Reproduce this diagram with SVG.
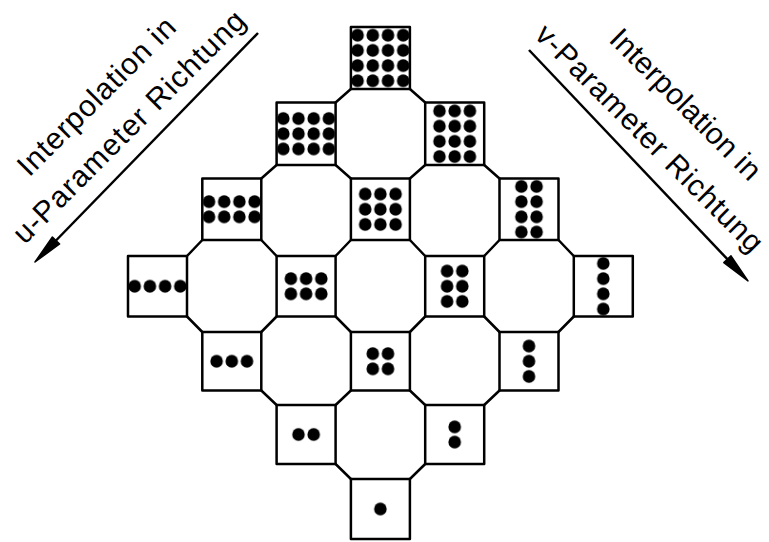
<svg xmlns="http://www.w3.org/2000/svg" width="769" height="542" viewBox="0 0 769 542">
<style>
.sq{fill:#fff;stroke:#000;stroke-width:2.5;stroke-linejoin:round}
.con{fill:none;stroke:#000;stroke-width:2.5;stroke-linecap:round}
.lbl{font-family:"Liberation Sans",Arial,sans-serif;font-size:30px;fill:#000}
.arr{fill:none;stroke:#000;stroke-width:2.5}
.head{fill:#000;stroke:#000;stroke-width:1.5;stroke-linejoin:round}
</style>
<defs>
<pattern id="dots" patternUnits="userSpaceOnUse" x="0" y="0" width="15.2" height="15.2">
<circle cx="7.6" cy="7.6" r="6.3" fill="#000"/>
</pattern>
</defs>
<rect width="769" height="542" fill="#fff"/>
<g id="connectors">
<path class="con" d="M350.9,89L335.6,102.5M409.9,89L425.2,102.5
M276.6,165L261.3,178.5M335.6,165L350.9,178.5
M425.2,165L409.9,178.5M484.2,165L499.5,178.5
M202.3,240L187,256M261.3,240L276.6,256
M350.9,240L335.6,256M409.9,240L425.2,256
M499.5,240L484.2,256M558.5,240L573.8,256
M187,316.5L202.3,332
M276.6,316.5L261.3,332M335.6,316.5L350.9,332
M425.2,316.5L409.9,332M484.2,316.5L499.5,332
M573.8,316.5L558.5,332
M261.3,390.5L276.6,405
M350.9,390.5L335.6,405M409.9,390.5L425.2,405
M499.5,390.5L484.2,405
M335.6,464L350.9,479
M425.2,464L409.9,479"/>
</g>
<g id="sq-r0c3"><rect class="sq" x="350.9" y="27" width="59" height="62"/><g transform="translate(350,27.6)"><rect width="60.8" height="60.8" fill="url(#dots)"/></g></g>
<g id="sq-r1c2"><rect class="sq" x="276.6" y="102.5" width="59" height="62.5"/><g transform="translate(275.7,110.95)"><rect width="60.8" height="45.6" fill="url(#dots)"/></g></g>
<g id="sq-r1c4"><rect class="sq" x="425.2" y="102.5" width="59" height="62.5"/><g transform="translate(431.9,103.35)"><rect width="45.6" height="60.8" fill="url(#dots)"/></g></g>
<g id="sq-r2c1"><rect class="sq" x="202.3" y="178.5" width="59" height="61.5"/><g transform="translate(201.4,194.05)"><rect width="60.8" height="30.4" fill="url(#dots)"/></g></g>
<g id="sq-r2c3"><rect class="sq" x="350.9" y="178.5" width="59" height="61.5"/><g transform="translate(357.6,186.45)"><rect width="45.6" height="45.6" fill="url(#dots)"/></g></g>
<g id="sq-r2c5"><rect class="sq" x="499.5" y="178.5" width="59" height="61.5"/><g transform="translate(513.8,178.85)"><rect width="30.4" height="60.8" fill="url(#dots)"/></g></g>
<g id="sq-r3c0"><rect class="sq" x="128" y="256" width="59" height="60.5"/><g transform="translate(127.1,278.65)"><rect width="60.8" height="15.2" fill="url(#dots)"/></g></g>
<g id="sq-r3c2"><rect class="sq" x="276.6" y="256" width="59" height="60.5"/><g transform="translate(283.3,271.05)"><rect width="45.6" height="30.4" fill="url(#dots)"/></g></g>
<g id="sq-r3c4"><rect class="sq" x="425.2" y="256" width="59" height="60.5"/><g transform="translate(439.5,263.45)"><rect width="30.4" height="45.6" fill="url(#dots)"/></g></g>
<g id="sq-r3c6"><rect class="sq" x="573.8" y="256" width="59" height="60.5"/><g transform="translate(595.7,255.85)"><rect width="15.2" height="60.8" fill="url(#dots)"/></g></g>
<g id="sq-r4c1"><rect class="sq" x="202.3" y="332" width="59" height="58.5"/><g transform="translate(209,353.65)"><rect width="45.6" height="15.2" fill="url(#dots)"/></g></g>
<g id="sq-r4c3"><rect class="sq" x="350.9" y="332" width="59" height="58.5"/><g transform="translate(365.2,346.05)"><rect width="30.4" height="30.4" fill="url(#dots)"/></g></g>
<g id="sq-r4c5"><rect class="sq" x="499.5" y="332" width="59" height="58.5"/><g transform="translate(521.4,338.45)"><rect width="15.2" height="45.6" fill="url(#dots)"/></g></g>
<g id="sq-r5c2"><rect class="sq" x="276.6" y="405" width="59" height="59"/><g transform="translate(290.9,426.9)"><rect width="30.4" height="15.2" fill="url(#dots)"/></g></g>
<g id="sq-r5c4"><rect class="sq" x="425.2" y="405" width="59" height="59"/><g transform="translate(447.1,419.3)"><rect width="15.2" height="30.4" fill="url(#dots)"/></g></g>
<g id="sq-r6c3"><rect class="sq" x="350.9" y="479" width="59" height="60"/><g transform="translate(372.8,501.4)"><rect width="15.2" height="15.2" fill="url(#dots)"/></g></g>
<g id="label-u">
<line class="arr" x1="258" y1="33" x2="56" y2="240.5"/>
<polygon class="head" points="52.4,237 59.6,244 35,262"/>
<g transform="translate(103.5,103.5) rotate(-45)"><text class="lbl" x="0" y="0" text-anchor="middle" textLength="210" lengthAdjust="spacing">Interpolation in</text></g>
<g transform="translate(136,134) rotate(-45)"><text class="lbl" x="0" y="0" text-anchor="middle" textLength="315" lengthAdjust="spacing">u-Parameter Richtung</text></g>
</g>
<g id="label-v">
<line class="arr" x1="529" y1="50" x2="727.4" y2="259.2"/>
<polygon class="head" points="723.8,262.6 731,255.8 748,281"/>
<g transform="translate(678.5,111.5) rotate(45)"><text class="lbl" x="0" y="0" text-anchor="middle" textLength="200" lengthAdjust="spacing">Interpolation in</text></g>
<g transform="translate(642.4,145.4) rotate(45)"><text class="lbl" x="0" y="0" text-anchor="middle" textLength="308" lengthAdjust="spacing">v-Parameter Richtung</text></g>
</g>
</svg>
